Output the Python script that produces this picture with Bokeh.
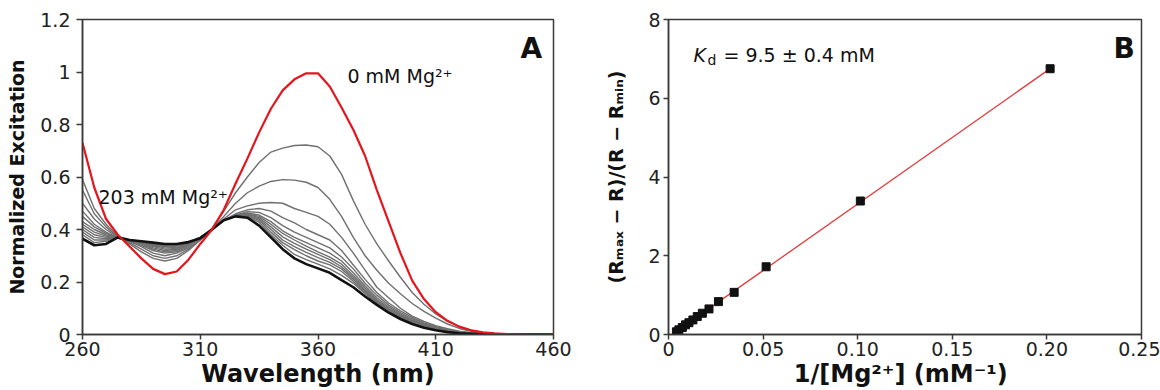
from bokeh.plotting import figure
from bokeh.layouts import row
from bokeh.models import Range1d, FixedTicker, ColumnDataSource
from bokeh.core.properties import value
from bokeh.embed import file_html
from bokeh.resources import INLINE

# ---------------- Panel A data: excitation spectra ----------------
wavelength = list(range(260, 461, 5))

spec_0mM = [0.73, 0.56, 0.44, 0.38, 0.335, 0.29, 0.25, 0.23, 0.24, 0.285, 0.345, 0.40, 0.475, 0.575,
            0.67, 0.77, 0.86, 0.93, 0.972, 0.995, 0.995, 0.945, 0.865, 0.78, 0.68, 0.55, 0.43, 0.31,
            0.205, 0.135, 0.085, 0.052, 0.03, 0.016, 0.008, 0.004, 0.002, 0.001, 0, 0, 0]
spec_g1 = [0.59, 0.48, 0.42, 0.375, 0.345, 0.315, 0.29, 0.28, 0.29, 0.32, 0.36, 0.405, 0.47, 0.54,
           0.60, 0.655, 0.695, 0.71, 0.72, 0.722, 0.715, 0.68, 0.61, 0.51, 0.42, 0.345, 0.28, 0.218,
           0.16, 0.115, 0.078, 0.05, 0.03, 0.016, 0.008, 0.004, 0.002, 0.001, 0, 0, 0]
spec_g2 = [0.55, 0.46, 0.41, 0.372, 0.35, 0.325, 0.30, 0.29, 0.30, 0.325, 0.36, 0.40, 0.45, 0.50,
           0.54, 0.565, 0.583, 0.59, 0.588, 0.58, 0.56, 0.515, 0.45, 0.37, 0.30, 0.245, 0.195, 0.155,
           0.118, 0.088, 0.062, 0.04, 0.023, 0.012, 0.006, 0.003, 0.001, 0, 0, 0, 0]
spec_g3 = [0.50, 0.44, 0.40, 0.37, 0.355, 0.335, 0.31, 0.30, 0.31, 0.33, 0.36, 0.40, 0.44, 0.475,
           0.49, 0.50, 0.503, 0.50, 0.48, 0.465, 0.45, 0.42, 0.37, 0.31, 0.245, 0.18, 0.14, 0.10,
           0.07, 0.05, 0.034, 0.022, 0.013, 0.007, 0.004, 0.002, 0.001, 0, 0, 0, 0]
spec_g4 = [0.47, 0.42, 0.39, 0.368, 0.355, 0.34, 0.32, 0.31, 0.315, 0.335, 0.365, 0.40, 0.435, 0.46,
           0.475, 0.48, 0.47, 0.445, 0.425, 0.40, 0.38, 0.36, 0.32, 0.265, 0.21, 0.16, 0.12, 0.09,
           0.065, 0.045, 0.03, 0.019, 0.011, 0.006, 0.003, 0.001, 0, 0, 0, 0, 0]
spec_g5 = [0.45, 0.41, 0.385, 0.367, 0.355, 0.345, 0.325, 0.315, 0.32, 0.34, 0.368, 0.40, 0.435, 0.455,
           0.468, 0.465, 0.445, 0.415, 0.39, 0.37, 0.35, 0.33, 0.295, 0.25, 0.195, 0.15, 0.112, 0.083,
           0.06, 0.042, 0.028, 0.018, 0.01, 0.005, 0.003, 0.001, 0, 0, 0, 0, 0]
spec_g6 = [0.43, 0.40, 0.38, 0.367, 0.357, 0.347, 0.33, 0.32, 0.325, 0.342, 0.368, 0.40, 0.435, 0.455,
           0.463, 0.455, 0.43, 0.395, 0.37, 0.35, 0.33, 0.31, 0.28, 0.235, 0.185, 0.14, 0.105, 0.078,
           0.056, 0.039, 0.026, 0.016, 0.009, 0.005, 0.002, 0.001, 0, 0, 0, 0, 0]
spec_g7 = [0.42, 0.39, 0.375, 0.367, 0.358, 0.35, 0.335, 0.325, 0.328, 0.345, 0.37, 0.40, 0.435, 0.455,
           0.46, 0.45, 0.42, 0.385, 0.36, 0.337, 0.315, 0.295, 0.268, 0.225, 0.177, 0.133, 0.10, 0.074,
           0.053, 0.037, 0.025, 0.015, 0.009, 0.005, 0.002, 0.001, 0, 0, 0, 0, 0]
spec_g8 = [0.41, 0.38, 0.37, 0.367, 0.36, 0.352, 0.338, 0.33, 0.332, 0.347, 0.37, 0.40, 0.435, 0.453,
           0.457, 0.445, 0.41, 0.372, 0.347, 0.325, 0.305, 0.285, 0.258, 0.217, 0.17, 0.128, 0.096, 0.071,
           0.051, 0.035, 0.023, 0.014, 0.008, 0.004, 0.002, 0.001, 0, 0, 0, 0, 0]
spec_g9 = [0.40, 0.37, 0.365, 0.368, 0.36, 0.353, 0.34, 0.335, 0.336, 0.349, 0.37, 0.40, 0.435, 0.452,
           0.455, 0.44, 0.40, 0.36, 0.335, 0.313, 0.293, 0.275, 0.25, 0.21, 0.165, 0.124, 0.093, 0.068,
           0.049, 0.034, 0.022, 0.013, 0.007, 0.004, 0.002, 0.001, 0, 0, 0, 0, 0]
spec_g10 = [0.39, 0.36, 0.36, 0.368, 0.36, 0.354, 0.343, 0.338, 0.339, 0.35, 0.37, 0.40, 0.435, 0.451,
            0.452, 0.435, 0.39, 0.35, 0.323, 0.30, 0.28, 0.265, 0.24, 0.203, 0.16, 0.12, 0.09, 0.066,
            0.047, 0.032, 0.021, 0.012, 0.007, 0.004, 0.002, 0.001, 0, 0, 0, 0, 0]
spec_g11 = [0.38, 0.35, 0.355, 0.369, 0.36, 0.355, 0.346, 0.341, 0.342, 0.351, 0.37, 0.40, 0.435, 0.45,
            0.45, 0.428, 0.38, 0.34, 0.305, 0.285, 0.268, 0.25, 0.225, 0.195, 0.155, 0.117, 0.087, 0.063,
            0.044, 0.03, 0.019, 0.011, 0.006, 0.003, 0.002, 0.001, 0, 0, 0, 0, 0]
spec_203mM = [0.365, 0.34, 0.345, 0.37, 0.36, 0.355, 0.35, 0.345, 0.345, 0.352, 0.367, 0.40, 0.435, 0.45,
              0.445, 0.415, 0.37, 0.325, 0.29, 0.268, 0.252, 0.235, 0.207, 0.18, 0.145, 0.113, 0.083, 0.059,
              0.04, 0.026, 0.016, 0.009, 0.005, 0.003, 0.001, 0, 0, 0, 0, 0, 0]
gray_spectra = [spec_g1, spec_g2, spec_g3, spec_g4, spec_g5, spec_g6, spec_g7, spec_g8,
                spec_g9, spec_g10, spec_g11]

xticks_A = [260, 310, 360, 410, 460]
yticks_A = [0, 0.2, 0.4, 0.6, 0.8, 1, 1.2]
ytick_labels_A = ["0", "0.2", "0.4", "0.6", "0.8", "1", "1.2"]

# ---------------- Panel B data: double reciprocal ----------------
inv_mg = [0.0042, 0.0055, 0.0073, 0.009, 0.0108, 0.0129, 0.0152, 0.0179, 0.0214, 0.0264,
          0.0347, 0.0516, 0.1014, 0.2017]
ratio = [0.068, 0.118, 0.177, 0.245, 0.30, 0.37, 0.456, 0.54, 0.65, 0.835,
         1.07, 1.72, 3.39, 6.75]
fit_slope = 33.8
fit_intercept = -0.065

xticks_B = [0, 0.05, 0.10, 0.15, 0.20, 0.25]
xtick_labels_B = ["0", "0.05", "0.10", "0.15", "0.20", "0.25"]
yticks_B = [0, 2, 4, 6, 8]

FONT = "DejaVu Sans"
AXC = "#3a3a3a"


def style(p):
    p.xgrid.visible = False
    p.ygrid.visible = False
    p.outline_line_color = AXC
    p.outline_line_width = 1.5
    p.background_fill_color = "white"
    p.border_fill_color = "white"
    for ax in (p.xaxis[0], p.yaxis[0]):
        ax.axis_line_color = AXC
        ax.axis_line_width = 1.5
        ax.major_tick_line_color = AXC
        ax.major_tick_line_width = 1.5
        ax.major_tick_in = 0
        ax.major_tick_out = 5
        ax.minor_tick_line_color = None
        ax.major_label_text_font = FONT
        ax.major_label_text_font_size = "19px"
        ax.major_label_text_color = "#222222"
        ax.axis_label_text_font = FONT
        ax.axis_label_text_font_style = "bold"
        ax.axis_label_text_color = "#111111"
    p.xaxis[0].major_label_standoff = 2
    p.xaxis[0].axis_label_standoff = 1
    p.xaxis[0].axis_label_text_font_size = "24px"
    p.yaxis[0].axis_label_text_font_size = "19px"


# ---------------- Panel A ----------------
pA = figure(width=580, height=390, output_backend="svg", toolbar_location=None,
            x_range=Range1d(260, 460), y_range=Range1d(0, 1.2),
            min_border_left=82, min_border_right=27, min_border_top=19, min_border_bottom=56)
style(pA)
pA.xaxis.axis_label = "Wavelength (nm)"
pA.yaxis.axis_label = "Normalized Excitation"
pA.xaxis.ticker = FixedTicker(ticks=xticks_A)
pA.yaxis.ticker = FixedTicker(ticks=yticks_A)
pA.yaxis.major_label_overrides = {t: l for t, l in zip(yticks_A, ytick_labels_A)}
pA.yaxis.major_label_standoff = 6
pA.yaxis.major_tick_out = 6
pA.yaxis.axis_label_standoff = 9

for s in gray_spectra:
    pA.line(wavelength, s, line_color="#707070", line_width=1.4)
pA.line(wavelength, spec_203mM, line_color="#111111", line_width=2.6)
pA.line(wavelength, spec_0mM, line_color="#e8141c", line_width=2.2)

textA = ColumnDataSource(dict(x=[266.8, 372.5], y=[0.522, 0.983],
                              t=["203 mM Mg\u00b2\u207a", "0 mM Mg\u00b2\u207a"]))
pA.text(x="x", y="y", text="t", source=textA, text_font=value(FONT),
        text_font_size="19px", text_color="#111111", text_baseline="alphabetic")
pA.text(x=[446.0], y=[1.0895], text=["A"], text_font=value(FONT), text_font_size="28px",
        text_font_style="bold", text_color="#111111", text_baseline="alphabetic")

# ---------------- Panel B ----------------
pB = figure(width=580, height=390, output_backend="svg", toolbar_location=None,
            x_range=Range1d(0, 0.25), y_range=Range1d(0, 8),
            min_border_left=88, min_border_right=19, min_border_top=19, min_border_bottom=56)
style(pB)
pB.xaxis.axis_label = "1/[Mg\u00b2\u207a]  (mM\u207b\u00b9)"
pB.yaxis.axis_label = "(R\u2098\u2090\u2093 \u2212 R)/(R \u2212 R\u2098\u1d62\u2099)"
pB.xaxis.ticker = FixedTicker(ticks=xticks_B)
pB.xaxis.major_label_overrides = {t: l for t, l in zip(xticks_B, xtick_labels_B)}
pB.yaxis.ticker = FixedTicker(ticks=yticks_B)
pB.yaxis.major_label_standoff = 3
pB.yaxis.axis_label_standoff = 18

x_fit = [min(inv_mg), max(inv_mg)]
y_fit = [fit_slope * v + fit_intercept for v in x_fit]
pB.line(x_fit, y_fit, line_color="#e23a3a", line_width=1.3)
pB.scatter(inv_mg, ratio, marker="square", size=8, fill_color="#111111", line_color="#111111")

pB.text(x=[0.01321], y=[7.086], text=["K"], text_font=value(FONT), text_font_size="19px",
        text_font_style="italic", text_color="#111111", text_baseline="alphabetic")
pB.text(x=[0.0206], y=[6.98], text=["d"], text_font=value(FONT), text_font_size="14px",
        text_color="#111111", text_baseline="alphabetic")
pB.text(x=[0.02907], y=[7.086], text=["= 9.5 \u00b1 0.4 mM"], text_font=value(FONT),
        text_font_size="19px", text_color="#111111", text_baseline="alphabetic")
pB.text(x=[0.2352], y=[7.264], text=["B"], text_font=value(FONT), text_font_size="28px",
        text_font_style="bold", text_color="#111111", text_baseline="alphabetic")

layout = row(pA, pB)
open("out.html", "w").write(file_html(layout, INLINE))
